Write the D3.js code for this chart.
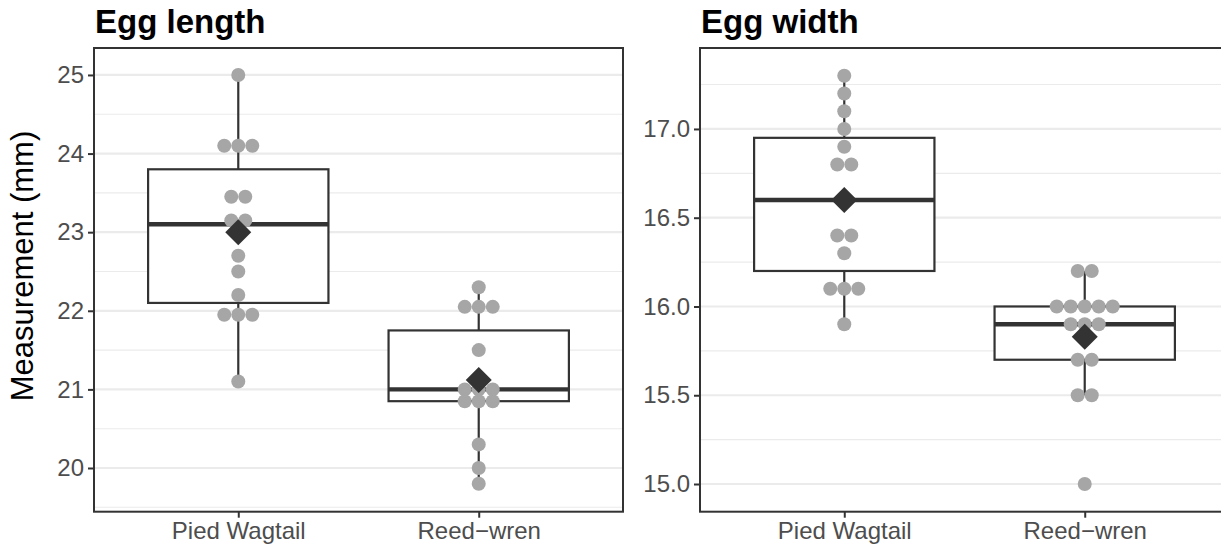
<!DOCTYPE html>
<html><head><meta charset="utf-8">
<script src="https://cdn.jsdelivr.net/npm/d3@7"></script>
<style>
html,body{margin:0;padding:0;background:#fff;}
svg text{font-family:"Liberation Sans",Arial,Helvetica,sans-serif;}
</style>
</head><body>
<svg id="chart" width="1221" height="546"></svg>
<script>
// ---------- data ----------
const species = ["Pied Wagtail", "Reed\u2212wren"];
const panelTitles = ["Egg length", "Egg width"];
const yAxisTitle = "Measurement (mm)";

// individual eggs (dot plot values)
const lengthPiedWagtail = [25.0, 24.1, 24.1, 24.1, 23.45, 23.45, 23.15, 23.15, 22.7, 22.5, 22.2, 21.95, 21.95, 21.95, 21.1];
const lengthReedWren    = [22.3, 22.05, 22.05, 22.05, 21.5, 21.0, 21.0, 21.0, 20.85, 20.85, 20.85, 20.3, 20.0, 19.8];
const widthPiedWagtail  = [17.3, 17.2, 17.1, 17.0, 16.9, 16.8, 16.8, 16.4, 16.4, 16.3, 16.1, 16.1, 16.1, 15.9];
const widthReedWren     = [16.2, 16.2, 16.0, 16.0, 16.0, 16.0, 16.0, 15.9, 15.9, 15.9, 15.7, 15.7, 15.5, 15.5, 15.0];

// box statistics per species [Pied Wagtail, Reed-wren]
const lengthWhiskerLow = [21.1, 19.8];
const lengthQ1         = [22.1, 20.85];
const lengthMedian     = [23.1, 21.0];
const lengthQ3         = [23.8, 21.75];
const lengthWhiskerHigh= [25.0, 22.3];
const lengthMean       = [23.0, 21.12];

const widthWhiskerLow  = [15.9, 15.5];
const widthQ1          = [16.2, 15.7];
const widthMedian      = [16.6, 15.9];
const widthQ3          = [16.95, 16.0];
const widthWhiskerHigh = [17.3, 16.2];
const widthMean        = [16.6, 15.83];

// tick labels
const lengthTicks = [20, 21, 22, 23, 24, 25];
const lengthMinor = [19.5, 20.5, 21.5, 22.5, 23.5, 24.5];
const widthTicks  = [15.0, 15.5, 16.0, 16.5, 17.0];
const widthMinor  = [15.25, 15.75, 16.25, 16.75, 17.25];

// ---------- build panels ----------
const panels = [
  { title: panelTitles[0], dots: [lengthPiedWagtail, lengthReedWren],
    lo: lengthWhiskerLow, q1: lengthQ1, med: lengthMedian, q3: lengthQ3, hi: lengthWhiskerHigh, mean: lengthMean,
    ticks: lengthTicks, minor: lengthMinor, domain: [19.444, 25.343], fmt: d3.format("d"), left: 94 },
  { title: panelTitles[1], dots: [widthPiedWagtail, widthReedWren],
    lo: widthWhiskerLow, q1: widthQ1, med: widthMedian, q3: widthQ3, hi: widthWhiskerHigh, mean: widthMean,
    ticks: widthTicks, minor: widthMinor, domain: [14.844, 17.456], fmt: d3.format(".1f"), left: 700 }
];

const svg = d3.select("#chart");
const panelTop = 48, panelBottom = 511.7, pw = 529;
const dark = "#333333", grid = "#EBEBEB", dotCol = "#A6A6A6";
const r = 7, dotStep = 14, diamond = 13;

panels.forEach((p, pi) => {
  const x = d3.scalePoint().domain(species).range([p.left, p.left + pw]).padding(0.6);
  const y = d3.scaleLinear().domain(p.domain).range([panelBottom, panelTop]);
  const band = x.step();
  const g = svg.append("g");
  const clipId = "clipP" + pi;
  svg.append("defs").append("clipPath").attr("id", clipId)
    .append("rect").attr("x", p.left).attr("y", panelTop).attr("width", pw).attr("height", panelBottom - panelTop);
  const inner = g.append("g").attr("clip-path", `url(#${clipId})`);

  // gridlines
  inner.selectAll(".minor").data(p.minor).join("line")
    .attr("x1", p.left).attr("x2", p.left + pw)
    .attr("y1", d => y(d)).attr("y2", d => y(d))
    .attr("stroke", grid).attr("stroke-width", 1.1);
  inner.selectAll(".major").data(p.ticks).join("line")
    .attr("x1", p.left).attr("x2", p.left + pw)
    .attr("y1", d => y(d)).attr("y2", d => y(d))
    .attr("stroke", grid).attr("stroke-width", 2.2);

  // boxplots
  species.forEach((s, i) => {
    const cx = x(s), bw = band * 0.75;
    inner.append("line").attr("x1", cx).attr("x2", cx)
      .attr("y1", y(p.hi[i])).attr("y2", y(p.q3[i])).attr("stroke", dark).attr("stroke-width", 2.2);
    inner.append("line").attr("x1", cx).attr("x2", cx)
      .attr("y1", y(p.q1[i])).attr("y2", y(p.lo[i])).attr("stroke", dark).attr("stroke-width", 2.2);
    inner.append("rect").attr("x", cx - bw/2).attr("width", bw)
      .attr("y", y(p.q3[i])).attr("height", y(p.q1[i]) - y(p.q3[i]))
      .attr("fill", "#fff").attr("stroke", dark).attr("stroke-width", 2.2);
    inner.append("line").attr("x1", cx - bw/2).attr("x2", cx + bw/2)
      .attr("y1", y(p.med[i])).attr("y2", y(p.med[i])).attr("stroke", dark).attr("stroke-width", 4.4);
  });

  // dots (centered stacks)
  species.forEach((s, i) => {
    const groups = d3.rollups(p.dots[i], v => v.length, d => d);
    const pts = [];
    groups.forEach(([val, n]) => {
      for (let k = 0; k < n; k++) pts.push({ v: val, off: (k - (n - 1) / 2) * dotStep });
    });
    inner.selectAll(null).data(pts).join("circle")
      .attr("cx", d => x(s) + d.off).attr("cy", d => y(d.v)).attr("r", r)
      .attr("fill", dotCol);
  });

  // mean diamonds
  species.forEach((s, i) => {
    const cx = x(s), cy = y(p.mean[i]);
    inner.append("path")
      .attr("d", `M${cx},${cy - diamond}L${cx + diamond},${cy}L${cx},${cy + diamond}L${cx - diamond},${cy}Z`)
      .attr("fill", dark);
  });

  // panel border
  g.append("rect").attr("x", p.left).attr("y", panelTop).attr("width", pw).attr("height", panelBottom - panelTop)
    .attr("fill", "none").attr("stroke", dark).attr("stroke-width", 2);

  // y axis
  const ya = g.append("g").attr("transform", `translate(${p.left},0)`)
    .call(d3.axisLeft(y).tickValues(p.ticks).tickFormat(p.fmt).tickSize(6).tickPadding(4));
  ya.select(".domain").remove();
  ya.selectAll(".tick line").attr("stroke", dark).attr("stroke-width", 2);
  ya.selectAll(".tick text").attr("fill", "#4D4D4D").style("font-size", "24px");

  // x axis
  const xa = g.append("g").attr("transform", `translate(0,${panelBottom})`)
    .call(d3.axisBottom(x).tickSize(6).tickPadding(4));
  xa.select(".domain").remove();
  xa.selectAll(".tick line").attr("stroke", dark).attr("stroke-width", 2);
  xa.selectAll(".tick text").attr("fill", "#4D4D4D").style("font-size", "24px");

  // title
  g.append("text").attr("x", p.left + 1).attr("y", 33)
    .style("font-size", "33px").style("font-weight", "bold").attr("fill", "#000")
    .text(p.title);
});

svg.append("text")
  .attr("transform", "translate(33,266) rotate(-90)")
  .attr("text-anchor", "middle")
  .style("font-size", "31px").attr("fill", "#000")
  .text(yAxisTitle);
</script>
</body></html>
